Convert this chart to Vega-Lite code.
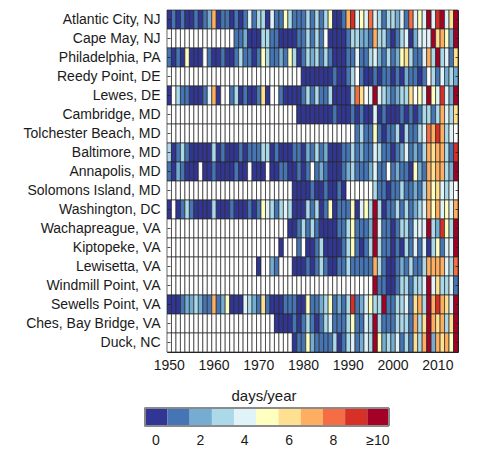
{
"$schema": "https://vega.github.io/schema/vega-lite/v6.json",
"padding": {"left": 22, "top": 9, "right": 0, "bottom": 0},
"spacing": 15,
"config": {
  "font": "Liberation Sans",
  "axis": {"labelFontSize": 14, "labelColor": "#1a1a1a", "grid": false},
  "view": {"stroke": "#222"}
},
"datasets": {
"stations": [{"k":0,"s":"Atlantic City, NJ"},{"k":1,"s":"Cape May, NJ"},{"k":2,"s":"Philadelphia, PA"},{"k":3,"s":"Reedy Point, DE"},{"k":4,"s":"Lewes, DE"},{"k":5,"s":"Cambridge, MD"},{"k":6,"s":"Tolchester Beach, MD"},{"k":7,"s":"Baltimore, MD"},{"k":8,"s":"Annapolis, MD"},{"k":9,"s":"Solomons Island, MD"},{"k":10,"s":"Washington, DC"},{"k":11,"s":"Wachapreague, VA"},{"k":12,"s":"Kiptopeke, VA"},{"k":13,"s":"Lewisetta, VA"},{"k":14,"s":"Windmill Point, VA"},{"k":15,"s":"Sewells Point, VA"},{"k":16,"s":"Ches, Bay Bridge, VA"},{"k":17,"s":"Duck, NC"}],
"cells": [
{"k":0,"yr":1950,"v":0},{"k":0,"yr":1951,"v":1},{"k":0,"yr":1952,"v":0},{"k":0,"yr":1953,"v":1},{"k":0,"yr":1954,"v":0},{"k":0,"yr":1955,"v":0},{"k":0,"yr":1956,"v":1},{"k":0,"yr":1957,"v":0},{"k":0,"yr":1958,"v":1},{"k":0,"yr":1959,"v":2},{"k":0,"yr":1960,"v":7},{"k":0,"yr":1961,"v":0},{"k":0,"yr":1962,"v":1},{"k":0,"yr":1963,"v":1},{"k":0,"yr":1964,"v":0},{"k":0,"yr":1965,"v":1},{"k":0,"yr":1966,"v":0},{"k":0,"yr":1967,"v":1},{"k":0,"yr":1968,"v":4},{"k":0,"yr":1969,"v":1},{"k":0,"yr":1970,"v":3},{"k":0,"yr":1971,"v":3},{"k":0,"yr":1972,"v":0},{"k":0,"yr":1973,"v":4},{"k":0,"yr":1974,"v":1},{"k":0,"yr":1975,"v":1},{"k":0,"yr":1976,"v":5},{"k":0,"yr":1977,"v":3},{"k":0,"yr":1978,"v":1},{"k":0,"yr":1979,"v":1},{"k":0,"yr":1980,"v":1},{"k":0,"yr":1981,"v":3},{"k":0,"yr":1982,"v":1},{"k":0,"yr":1983,"v":3},{"k":0,"yr":1984,"v":1},{"k":0,"yr":1985,"v":3},{"k":0,"yr":1986,"v":5},{"k":0,"yr":1987,"v":0},{"k":0,"yr":1988,"v":0},{"k":0,"yr":1989,"v":1},{"k":0,"yr":1990,"v":7},{"k":0,"yr":1991,"v":9},{"k":0,"yr":1992,"v":4},{"k":0,"yr":1993,"v":5},{"k":0,"yr":1994,"v":4},{"k":0,"yr":1995,"v":8},{"k":0,"yr":1996,"v":4},{"k":0,"yr":1997,"v":3},{"k":0,"yr":1998,"v":1},{"k":0,"yr":1999,"v":3},{"k":0,"yr":2000,"v":3},{"k":0,"yr":2001,"v":2},{"k":0,"yr":2002,"v":4},{"k":0,"yr":2003,"v":1},{"k":0,"yr":2004,"v":8},{"k":0,"yr":2005,"v":4},{"k":0,"yr":2006,"v":5},{"k":0,"yr":2007,"v":4},{"k":0,"yr":2008,"v":10},{"k":0,"yr":2009,"v":4},{"k":0,"yr":2010,"v":9},{"k":0,"yr":2011,"v":10},{"k":0,"yr":2012,"v":4},{"k":0,"yr":2013,"v":6},{"k":0,"yr":2014,"v":10},
{"k":1,"yr":1950,"v":null},{"k":1,"yr":1951,"v":null},{"k":1,"yr":1952,"v":null},{"k":1,"yr":1953,"v":null},{"k":1,"yr":1954,"v":null},{"k":1,"yr":1955,"v":null},{"k":1,"yr":1956,"v":null},{"k":1,"yr":1957,"v":null},{"k":1,"yr":1958,"v":null},{"k":1,"yr":1959,"v":null},{"k":1,"yr":1960,"v":null},{"k":1,"yr":1961,"v":null},{"k":1,"yr":1962,"v":null},{"k":1,"yr":1963,"v":null},{"k":1,"yr":1964,"v":null},{"k":1,"yr":1965,"v":1},{"k":1,"yr":1966,"v":1},{"k":1,"yr":1967,"v":2},{"k":1,"yr":1968,"v":0},{"k":1,"yr":1969,"v":0},{"k":1,"yr":1970,"v":0},{"k":1,"yr":1971,"v":3},{"k":1,"yr":1972,"v":3},{"k":1,"yr":1973,"v":1},{"k":1,"yr":1974,"v":1},{"k":1,"yr":1975,"v":0},{"k":1,"yr":1976,"v":0},{"k":1,"yr":1977,"v":0},{"k":1,"yr":1978,"v":0},{"k":1,"yr":1979,"v":1},{"k":1,"yr":1980,"v":1},{"k":1,"yr":1981,"v":3},{"k":1,"yr":1982,"v":1},{"k":1,"yr":1983,"v":3},{"k":1,"yr":1984,"v":1},{"k":1,"yr":1985,"v":null},{"k":1,"yr":1986,"v":0},{"k":1,"yr":1987,"v":0},{"k":1,"yr":1988,"v":0},{"k":1,"yr":1989,"v":0},{"k":1,"yr":1990,"v":1},{"k":1,"yr":1991,"v":3},{"k":1,"yr":1992,"v":3},{"k":1,"yr":1993,"v":2},{"k":1,"yr":1994,"v":2},{"k":1,"yr":1995,"v":1},{"k":1,"yr":1996,"v":7},{"k":1,"yr":1997,"v":3},{"k":1,"yr":1998,"v":3},{"k":1,"yr":1999,"v":1},{"k":1,"yr":2000,"v":0},{"k":1,"yr":2001,"v":1},{"k":1,"yr":2002,"v":3},{"k":1,"yr":2003,"v":4},{"k":1,"yr":2004,"v":0},{"k":1,"yr":2005,"v":2},{"k":1,"yr":2006,"v":4},{"k":1,"yr":2007,"v":4},{"k":1,"yr":2008,"v":4},{"k":1,"yr":2009,"v":10},{"k":1,"yr":2010,"v":6},{"k":1,"yr":2011,"v":7},{"k":1,"yr":2012,"v":5},{"k":1,"yr":2013,"v":2},{"k":1,"yr":2014,"v":10},
{"k":2,"yr":1950,"v":1},{"k":2,"yr":1951,"v":0},{"k":2,"yr":1952,"v":1},{"k":2,"yr":1953,"v":0},{"k":2,"yr":1954,"v":5},{"k":2,"yr":1955,"v":0},{"k":2,"yr":1956,"v":0},{"k":2,"yr":1957,"v":0},{"k":2,"yr":1958,"v":null},{"k":2,"yr":1959,"v":1},{"k":2,"yr":1960,"v":0},{"k":2,"yr":1961,"v":0},{"k":2,"yr":1962,"v":1},{"k":2,"yr":1963,"v":0},{"k":2,"yr":1964,"v":0},{"k":2,"yr":1965,"v":1},{"k":2,"yr":1966,"v":3},{"k":2,"yr":1967,"v":1},{"k":2,"yr":1968,"v":1},{"k":2,"yr":1969,"v":0},{"k":2,"yr":1970,"v":1},{"k":2,"yr":1971,"v":5},{"k":2,"yr":1972,"v":3},{"k":2,"yr":1973,"v":1},{"k":2,"yr":1974,"v":1},{"k":2,"yr":1975,"v":2},{"k":2,"yr":1976,"v":1},{"k":2,"yr":1977,"v":5},{"k":2,"yr":1978,"v":3},{"k":2,"yr":1979,"v":0},{"k":2,"yr":1980,"v":1},{"k":2,"yr":1981,"v":3},{"k":2,"yr":1982,"v":2},{"k":2,"yr":1983,"v":3},{"k":2,"yr":1984,"v":1},{"k":2,"yr":1985,"v":3},{"k":2,"yr":1986,"v":1},{"k":2,"yr":1987,"v":0},{"k":2,"yr":1988,"v":0},{"k":2,"yr":1989,"v":0},{"k":2,"yr":1990,"v":1},{"k":2,"yr":1991,"v":1},{"k":2,"yr":1992,"v":4},{"k":2,"yr":1993,"v":1},{"k":2,"yr":1994,"v":1},{"k":2,"yr":1995,"v":3},{"k":2,"yr":1996,"v":4},{"k":2,"yr":1997,"v":2},{"k":2,"yr":1998,"v":1},{"k":2,"yr":1999,"v":3},{"k":2,"yr":2000,"v":1},{"k":2,"yr":2001,"v":2},{"k":2,"yr":2002,"v":5},{"k":2,"yr":2003,"v":6},{"k":2,"yr":2004,"v":3},{"k":2,"yr":2005,"v":1},{"k":2,"yr":2006,"v":1},{"k":2,"yr":2007,"v":4},{"k":2,"yr":2008,"v":7},{"k":2,"yr":2009,"v":3},{"k":2,"yr":2010,"v":10},{"k":2,"yr":2011,"v":3},{"k":2,"yr":2012,"v":4},{"k":2,"yr":2013,"v":1},{"k":2,"yr":2014,"v":6},
{"k":3,"yr":1950,"v":null},{"k":3,"yr":1951,"v":null},{"k":3,"yr":1952,"v":null},{"k":3,"yr":1953,"v":null},{"k":3,"yr":1954,"v":null},{"k":3,"yr":1955,"v":null},{"k":3,"yr":1956,"v":null},{"k":3,"yr":1957,"v":null},{"k":3,"yr":1958,"v":null},{"k":3,"yr":1959,"v":null},{"k":3,"yr":1960,"v":null},{"k":3,"yr":1961,"v":null},{"k":3,"yr":1962,"v":null},{"k":3,"yr":1963,"v":null},{"k":3,"yr":1964,"v":null},{"k":3,"yr":1965,"v":null},{"k":3,"yr":1966,"v":null},{"k":3,"yr":1967,"v":null},{"k":3,"yr":1968,"v":null},{"k":3,"yr":1969,"v":null},{"k":3,"yr":1970,"v":null},{"k":3,"yr":1971,"v":null},{"k":3,"yr":1972,"v":null},{"k":3,"yr":1973,"v":null},{"k":3,"yr":1974,"v":null},{"k":3,"yr":1975,"v":null},{"k":3,"yr":1976,"v":null},{"k":3,"yr":1977,"v":null},{"k":3,"yr":1978,"v":null},{"k":3,"yr":1979,"v":null},{"k":3,"yr":1980,"v":0},{"k":3,"yr":1981,"v":0},{"k":3,"yr":1982,"v":0},{"k":3,"yr":1983,"v":0},{"k":3,"yr":1984,"v":0},{"k":3,"yr":1985,"v":0},{"k":3,"yr":1986,"v":0},{"k":3,"yr":1987,"v":1},{"k":3,"yr":1988,"v":0},{"k":3,"yr":1989,"v":0},{"k":3,"yr":1990,"v":1},{"k":3,"yr":1991,"v":3},{"k":3,"yr":1992,"v":null},{"k":3,"yr":1993,"v":1},{"k":3,"yr":1994,"v":0},{"k":3,"yr":1995,"v":0},{"k":3,"yr":1996,"v":1},{"k":3,"yr":1997,"v":0},{"k":3,"yr":1998,"v":1},{"k":3,"yr":1999,"v":1},{"k":3,"yr":2000,"v":0},{"k":3,"yr":2001,"v":1},{"k":3,"yr":2002,"v":0},{"k":3,"yr":2003,"v":2},{"k":3,"yr":2004,"v":1},{"k":3,"yr":2005,"v":1},{"k":3,"yr":2006,"v":0},{"k":3,"yr":2007,"v":1},{"k":3,"yr":2008,"v":null},{"k":3,"yr":2009,"v":3},{"k":3,"yr":2010,"v":1},{"k":3,"yr":2011,"v":4},{"k":3,"yr":2012,"v":2},{"k":3,"yr":2013,"v":3},{"k":3,"yr":2014,"v":2},
{"k":4,"yr":1950,"v":0},{"k":4,"yr":1951,"v":null},{"k":4,"yr":1952,"v":3},{"k":4,"yr":1953,"v":1},{"k":4,"yr":1954,"v":1},{"k":4,"yr":1955,"v":0},{"k":4,"yr":1956,"v":0},{"k":4,"yr":1957,"v":0},{"k":4,"yr":1958,"v":1},{"k":4,"yr":1959,"v":4},{"k":4,"yr":1960,"v":7},{"k":4,"yr":1961,"v":0},{"k":4,"yr":1962,"v":null},{"k":4,"yr":1963,"v":null},{"k":4,"yr":1964,"v":1},{"k":4,"yr":1965,"v":3},{"k":4,"yr":1966,"v":0},{"k":4,"yr":1967,"v":1},{"k":4,"yr":1968,"v":0},{"k":4,"yr":1969,"v":0},{"k":4,"yr":1970,"v":1},{"k":4,"yr":1971,"v":6},{"k":4,"yr":1972,"v":0},{"k":4,"yr":1973,"v":null},{"k":4,"yr":1974,"v":null},{"k":4,"yr":1975,"v":1},{"k":4,"yr":1976,"v":0},{"k":4,"yr":1977,"v":0},{"k":4,"yr":1978,"v":0},{"k":4,"yr":1979,"v":0},{"k":4,"yr":1980,"v":1},{"k":4,"yr":1981,"v":3},{"k":4,"yr":1982,"v":1},{"k":4,"yr":1983,"v":3},{"k":4,"yr":1984,"v":1},{"k":4,"yr":1985,"v":1},{"k":4,"yr":1986,"v":3},{"k":4,"yr":1987,"v":0},{"k":4,"yr":1988,"v":0},{"k":4,"yr":1989,"v":0},{"k":4,"yr":1990,"v":0},{"k":4,"yr":1991,"v":3},{"k":4,"yr":1992,"v":8},{"k":4,"yr":1993,"v":6},{"k":4,"yr":1994,"v":null},{"k":4,"yr":1995,"v":4},{"k":4,"yr":1996,"v":10},{"k":4,"yr":1997,"v":4},{"k":4,"yr":1998,"v":3},{"k":4,"yr":1999,"v":2},{"k":4,"yr":2000,"v":1},{"k":4,"yr":2001,"v":2},{"k":4,"yr":2002,"v":3},{"k":4,"yr":2003,"v":3},{"k":4,"yr":2004,"v":6},{"k":4,"yr":2005,"v":null},{"k":4,"yr":2006,"v":5},{"k":4,"yr":2007,"v":4},{"k":4,"yr":2008,"v":10},{"k":4,"yr":2009,"v":5},{"k":4,"yr":2010,"v":4},{"k":4,"yr":2011,"v":9},{"k":4,"yr":2012,"v":4},{"k":4,"yr":2013,"v":2},{"k":4,"yr":2014,"v":10},
{"k":5,"yr":1950,"v":null},{"k":5,"yr":1951,"v":null},{"k":5,"yr":1952,"v":null},{"k":5,"yr":1953,"v":null},{"k":5,"yr":1954,"v":null},{"k":5,"yr":1955,"v":null},{"k":5,"yr":1956,"v":null},{"k":5,"yr":1957,"v":null},{"k":5,"yr":1958,"v":null},{"k":5,"yr":1959,"v":null},{"k":5,"yr":1960,"v":null},{"k":5,"yr":1961,"v":null},{"k":5,"yr":1962,"v":null},{"k":5,"yr":1963,"v":null},{"k":5,"yr":1964,"v":null},{"k":5,"yr":1965,"v":null},{"k":5,"yr":1966,"v":null},{"k":5,"yr":1967,"v":null},{"k":5,"yr":1968,"v":null},{"k":5,"yr":1969,"v":null},{"k":5,"yr":1970,"v":null},{"k":5,"yr":1971,"v":null},{"k":5,"yr":1972,"v":null},{"k":5,"yr":1973,"v":null},{"k":5,"yr":1974,"v":null},{"k":5,"yr":1975,"v":null},{"k":5,"yr":1976,"v":null},{"k":5,"yr":1977,"v":null},{"k":5,"yr":1978,"v":null},{"k":5,"yr":1979,"v":0},{"k":5,"yr":1980,"v":0},{"k":5,"yr":1981,"v":0},{"k":5,"yr":1982,"v":0},{"k":5,"yr":1983,"v":0},{"k":5,"yr":1984,"v":0},{"k":5,"yr":1985,"v":0},{"k":5,"yr":1986,"v":0},{"k":5,"yr":1987,"v":1},{"k":5,"yr":1988,"v":0},{"k":5,"yr":1989,"v":0},{"k":5,"yr":1990,"v":0},{"k":5,"yr":1991,"v":1},{"k":5,"yr":1992,"v":0},{"k":5,"yr":1993,"v":1},{"k":5,"yr":1994,"v":0},{"k":5,"yr":1995,"v":0},{"k":5,"yr":1996,"v":4},{"k":5,"yr":1997,"v":0},{"k":5,"yr":1998,"v":1},{"k":5,"yr":1999,"v":0},{"k":5,"yr":2000,"v":0},{"k":5,"yr":2001,"v":0},{"k":5,"yr":2002,"v":1},{"k":5,"yr":2003,"v":0},{"k":5,"yr":2004,"v":1},{"k":5,"yr":2005,"v":0},{"k":5,"yr":2006,"v":1},{"k":5,"yr":2007,"v":3},{"k":5,"yr":2008,"v":3},{"k":5,"yr":2009,"v":1},{"k":5,"yr":2010,"v":3},{"k":5,"yr":2011,"v":7},{"k":5,"yr":2012,"v":4},{"k":5,"yr":2013,"v":3},{"k":5,"yr":2014,"v":6},
{"k":6,"yr":1950,"v":null},{"k":6,"yr":1951,"v":null},{"k":6,"yr":1952,"v":null},{"k":6,"yr":1953,"v":null},{"k":6,"yr":1954,"v":null},{"k":6,"yr":1955,"v":null},{"k":6,"yr":1956,"v":null},{"k":6,"yr":1957,"v":null},{"k":6,"yr":1958,"v":null},{"k":6,"yr":1959,"v":null},{"k":6,"yr":1960,"v":null},{"k":6,"yr":1961,"v":null},{"k":6,"yr":1962,"v":null},{"k":6,"yr":1963,"v":null},{"k":6,"yr":1964,"v":null},{"k":6,"yr":1965,"v":null},{"k":6,"yr":1966,"v":null},{"k":6,"yr":1967,"v":null},{"k":6,"yr":1968,"v":null},{"k":6,"yr":1969,"v":null},{"k":6,"yr":1970,"v":null},{"k":6,"yr":1971,"v":null},{"k":6,"yr":1972,"v":null},{"k":6,"yr":1973,"v":null},{"k":6,"yr":1974,"v":null},{"k":6,"yr":1975,"v":null},{"k":6,"yr":1976,"v":null},{"k":6,"yr":1977,"v":null},{"k":6,"yr":1978,"v":null},{"k":6,"yr":1979,"v":null},{"k":6,"yr":1980,"v":null},{"k":6,"yr":1981,"v":null},{"k":6,"yr":1982,"v":null},{"k":6,"yr":1983,"v":null},{"k":6,"yr":1984,"v":null},{"k":6,"yr":1985,"v":null},{"k":6,"yr":1986,"v":null},{"k":6,"yr":1987,"v":null},{"k":6,"yr":1988,"v":null},{"k":6,"yr":1989,"v":null},{"k":6,"yr":1990,"v":null},{"k":6,"yr":1991,"v":null},{"k":6,"yr":1992,"v":1},{"k":6,"yr":1993,"v":3},{"k":6,"yr":1994,"v":1},{"k":6,"yr":1995,"v":1},{"k":6,"yr":1996,"v":5},{"k":6,"yr":1997,"v":1},{"k":6,"yr":1998,"v":0},{"k":6,"yr":1999,"v":1},{"k":6,"yr":2000,"v":1},{"k":6,"yr":2001,"v":3},{"k":6,"yr":2002,"v":0},{"k":6,"yr":2003,"v":3},{"k":6,"yr":2004,"v":1},{"k":6,"yr":2005,"v":1},{"k":6,"yr":2006,"v":3},{"k":6,"yr":2007,"v":4},{"k":6,"yr":2008,"v":8},{"k":6,"yr":2009,"v":7},{"k":6,"yr":2010,"v":9},{"k":6,"yr":2011,"v":7},{"k":6,"yr":2012,"v":3},{"k":6,"yr":2013,"v":4},{"k":6,"yr":2014,"v":null},
{"k":7,"yr":1950,"v":3},{"k":7,"yr":1951,"v":0},{"k":7,"yr":1952,"v":1},{"k":7,"yr":1953,"v":3},{"k":7,"yr":1954,"v":1},{"k":7,"yr":1955,"v":0},{"k":7,"yr":1956,"v":0},{"k":7,"yr":1957,"v":0},{"k":7,"yr":1958,"v":0},{"k":7,"yr":1959,"v":0},{"k":7,"yr":1960,"v":3},{"k":7,"yr":1961,"v":0},{"k":7,"yr":1962,"v":1},{"k":7,"yr":1963,"v":0},{"k":7,"yr":1964,"v":0},{"k":7,"yr":1965,"v":0},{"k":7,"yr":1966,"v":1},{"k":7,"yr":1967,"v":0},{"k":7,"yr":1968,"v":1},{"k":7,"yr":1969,"v":1},{"k":7,"yr":1970,"v":1},{"k":7,"yr":1971,"v":3},{"k":7,"yr":1972,"v":3},{"k":7,"yr":1973,"v":0},{"k":7,"yr":1974,"v":1},{"k":7,"yr":1975,"v":0},{"k":7,"yr":1976,"v":0},{"k":7,"yr":1977,"v":0},{"k":7,"yr":1978,"v":1},{"k":7,"yr":1979,"v":1},{"k":7,"yr":1980,"v":0},{"k":7,"yr":1981,"v":2},{"k":7,"yr":1982,"v":1},{"k":7,"yr":1983,"v":3},{"k":7,"yr":1984,"v":1},{"k":7,"yr":1985,"v":2},{"k":7,"yr":1986,"v":0},{"k":7,"yr":1987,"v":0},{"k":7,"yr":1988,"v":0},{"k":7,"yr":1989,"v":1},{"k":7,"yr":1990,"v":1},{"k":7,"yr":1991,"v":3},{"k":7,"yr":1992,"v":1},{"k":7,"yr":1993,"v":2},{"k":7,"yr":1994,"v":1},{"k":7,"yr":1995,"v":1},{"k":7,"yr":1996,"v":4},{"k":7,"yr":1997,"v":3},{"k":7,"yr":1998,"v":1},{"k":7,"yr":1999,"v":1},{"k":7,"yr":2000,"v":0},{"k":7,"yr":2001,"v":1},{"k":7,"yr":2002,"v":2},{"k":7,"yr":2003,"v":4},{"k":7,"yr":2004,"v":1},{"k":7,"yr":2005,"v":2},{"k":7,"yr":2006,"v":1},{"k":7,"yr":2007,"v":3},{"k":7,"yr":2008,"v":7},{"k":7,"yr":2009,"v":6},{"k":7,"yr":2010,"v":7},{"k":7,"yr":2011,"v":7},{"k":7,"yr":2012,"v":3},{"k":7,"yr":2013,"v":1},{"k":7,"yr":2014,"v":9},
{"k":8,"yr":1950,"v":1},{"k":8,"yr":1951,"v":0},{"k":8,"yr":1952,"v":2},{"k":8,"yr":1953,"v":1},{"k":8,"yr":1954,"v":0},{"k":8,"yr":1955,"v":0},{"k":8,"yr":1956,"v":0},{"k":8,"yr":1957,"v":null},{"k":8,"yr":1958,"v":0},{"k":8,"yr":1959,"v":0},{"k":8,"yr":1960,"v":1},{"k":8,"yr":1961,"v":0},{"k":8,"yr":1962,"v":0},{"k":8,"yr":1963,"v":0},{"k":8,"yr":1964,"v":0},{"k":8,"yr":1965,"v":1},{"k":8,"yr":1966,"v":0},{"k":8,"yr":1967,"v":0},{"k":8,"yr":1968,"v":null},{"k":8,"yr":1969,"v":0},{"k":8,"yr":1970,"v":0},{"k":8,"yr":1971,"v":0},{"k":8,"yr":1972,"v":null},{"k":8,"yr":1973,"v":0},{"k":8,"yr":1974,"v":0},{"k":8,"yr":1975,"v":1},{"k":8,"yr":1976,"v":1},{"k":8,"yr":1977,"v":0},{"k":8,"yr":1978,"v":0},{"k":8,"yr":1979,"v":1},{"k":8,"yr":1980,"v":0},{"k":8,"yr":1981,"v":1},{"k":8,"yr":1982,"v":null},{"k":8,"yr":1983,"v":1},{"k":8,"yr":1984,"v":2},{"k":8,"yr":1985,"v":1},{"k":8,"yr":1986,"v":0},{"k":8,"yr":1987,"v":0},{"k":8,"yr":1988,"v":0},{"k":8,"yr":1989,"v":1},{"k":8,"yr":1990,"v":2},{"k":8,"yr":1991,"v":3},{"k":8,"yr":1992,"v":1},{"k":8,"yr":1993,"v":1},{"k":8,"yr":1994,"v":1},{"k":8,"yr":1995,"v":2},{"k":8,"yr":1996,"v":4},{"k":8,"yr":1997,"v":1},{"k":8,"yr":1998,"v":1},{"k":8,"yr":1999,"v":null},{"k":8,"yr":2000,"v":1},{"k":8,"yr":2001,"v":2},{"k":8,"yr":2002,"v":1},{"k":8,"yr":2003,"v":1},{"k":8,"yr":2004,"v":0},{"k":8,"yr":2005,"v":5},{"k":8,"yr":2006,"v":2},{"k":8,"yr":2007,"v":1},{"k":8,"yr":2008,"v":7},{"k":8,"yr":2009,"v":6},{"k":8,"yr":2010,"v":7},{"k":8,"yr":2011,"v":7},{"k":8,"yr":2012,"v":3},{"k":8,"yr":2013,"v":2},{"k":8,"yr":2014,"v":10},
{"k":9,"yr":1950,"v":null},{"k":9,"yr":1951,"v":null},{"k":9,"yr":1952,"v":null},{"k":9,"yr":1953,"v":null},{"k":9,"yr":1954,"v":null},{"k":9,"yr":1955,"v":null},{"k":9,"yr":1956,"v":null},{"k":9,"yr":1957,"v":null},{"k":9,"yr":1958,"v":null},{"k":9,"yr":1959,"v":null},{"k":9,"yr":1960,"v":null},{"k":9,"yr":1961,"v":null},{"k":9,"yr":1962,"v":null},{"k":9,"yr":1963,"v":null},{"k":9,"yr":1964,"v":null},{"k":9,"yr":1965,"v":null},{"k":9,"yr":1966,"v":null},{"k":9,"yr":1967,"v":null},{"k":9,"yr":1968,"v":null},{"k":9,"yr":1969,"v":null},{"k":9,"yr":1970,"v":null},{"k":9,"yr":1971,"v":null},{"k":9,"yr":1972,"v":null},{"k":9,"yr":1973,"v":null},{"k":9,"yr":1974,"v":null},{"k":9,"yr":1975,"v":null},{"k":9,"yr":1976,"v":null},{"k":9,"yr":1977,"v":null},{"k":9,"yr":1978,"v":0},{"k":9,"yr":1979,"v":0},{"k":9,"yr":1980,"v":0},{"k":9,"yr":1981,"v":0},{"k":9,"yr":1982,"v":1},{"k":9,"yr":1983,"v":0},{"k":9,"yr":1984,"v":0},{"k":9,"yr":1985,"v":1},{"k":9,"yr":1986,"v":0},{"k":9,"yr":1987,"v":0},{"k":9,"yr":1988,"v":1},{"k":9,"yr":1989,"v":0},{"k":9,"yr":1990,"v":null},{"k":9,"yr":1991,"v":null},{"k":9,"yr":1992,"v":null},{"k":9,"yr":1993,"v":null},{"k":9,"yr":1994,"v":null},{"k":9,"yr":1995,"v":null},{"k":9,"yr":1996,"v":3},{"k":9,"yr":1997,"v":1},{"k":9,"yr":1998,"v":1},{"k":9,"yr":1999,"v":0},{"k":9,"yr":2000,"v":1},{"k":9,"yr":2001,"v":1},{"k":9,"yr":2002,"v":3},{"k":9,"yr":2003,"v":1},{"k":9,"yr":2004,"v":1},{"k":9,"yr":2005,"v":2},{"k":9,"yr":2006,"v":1},{"k":9,"yr":2007,"v":3},{"k":9,"yr":2008,"v":7},{"k":9,"yr":2009,"v":5},{"k":9,"yr":2010,"v":6},{"k":9,"yr":2011,"v":4},{"k":9,"yr":2012,"v":3},{"k":9,"yr":2013,"v":4},{"k":9,"yr":2014,"v":null},
{"k":10,"yr":1950,"v":0},{"k":10,"yr":1951,"v":null},{"k":10,"yr":1952,"v":0},{"k":10,"yr":1953,"v":1},{"k":10,"yr":1954,"v":3},{"k":10,"yr":1955,"v":1},{"k":10,"yr":1956,"v":0},{"k":10,"yr":1957,"v":0},{"k":10,"yr":1958,"v":0},{"k":10,"yr":1959,"v":0},{"k":10,"yr":1960,"v":3},{"k":10,"yr":1961,"v":0},{"k":10,"yr":1962,"v":0},{"k":10,"yr":1963,"v":0},{"k":10,"yr":1964,"v":1},{"k":10,"yr":1965,"v":0},{"k":10,"yr":1966,"v":0},{"k":10,"yr":1967,"v":0},{"k":10,"yr":1968,"v":1},{"k":10,"yr":1969,"v":0},{"k":10,"yr":1970,"v":1},{"k":10,"yr":1971,"v":5},{"k":10,"yr":1972,"v":4},{"k":10,"yr":1973,"v":3},{"k":10,"yr":1974,"v":1},{"k":10,"yr":1975,"v":3},{"k":10,"yr":1976,"v":4},{"k":10,"yr":1977,"v":3},{"k":10,"yr":1978,"v":0},{"k":10,"yr":1979,"v":0},{"k":10,"yr":1980,"v":0},{"k":10,"yr":1981,"v":3},{"k":10,"yr":1982,"v":1},{"k":10,"yr":1983,"v":3},{"k":10,"yr":1984,"v":0},{"k":10,"yr":1985,"v":1},{"k":10,"yr":1986,"v":5},{"k":10,"yr":1987,"v":0},{"k":10,"yr":1988,"v":1},{"k":10,"yr":1989,"v":1},{"k":10,"yr":1990,"v":1},{"k":10,"yr":1991,"v":5},{"k":10,"yr":1992,"v":0},{"k":10,"yr":1993,"v":4},{"k":10,"yr":1994,"v":5},{"k":10,"yr":1995,"v":3},{"k":10,"yr":1996,"v":10},{"k":10,"yr":1997,"v":3},{"k":10,"yr":1998,"v":0},{"k":10,"yr":1999,"v":1},{"k":10,"yr":2000,"v":1},{"k":10,"yr":2001,"v":3},{"k":10,"yr":2002,"v":1},{"k":10,"yr":2003,"v":3},{"k":10,"yr":2004,"v":1},{"k":10,"yr":2005,"v":2},{"k":10,"yr":2006,"v":3},{"k":10,"yr":2007,"v":4},{"k":10,"yr":2008,"v":7},{"k":10,"yr":2009,"v":5},{"k":10,"yr":2010,"v":7},{"k":10,"yr":2011,"v":4},{"k":10,"yr":2012,"v":5},{"k":10,"yr":2013,"v":4},{"k":10,"yr":2014,"v":7},
{"k":11,"yr":1950,"v":null},{"k":11,"yr":1951,"v":null},{"k":11,"yr":1952,"v":null},{"k":11,"yr":1953,"v":null},{"k":11,"yr":1954,"v":null},{"k":11,"yr":1955,"v":null},{"k":11,"yr":1956,"v":null},{"k":11,"yr":1957,"v":null},{"k":11,"yr":1958,"v":null},{"k":11,"yr":1959,"v":null},{"k":11,"yr":1960,"v":null},{"k":11,"yr":1961,"v":null},{"k":11,"yr":1962,"v":null},{"k":11,"yr":1963,"v":null},{"k":11,"yr":1964,"v":null},{"k":11,"yr":1965,"v":null},{"k":11,"yr":1966,"v":null},{"k":11,"yr":1967,"v":null},{"k":11,"yr":1968,"v":null},{"k":11,"yr":1969,"v":null},{"k":11,"yr":1970,"v":null},{"k":11,"yr":1971,"v":null},{"k":11,"yr":1972,"v":null},{"k":11,"yr":1973,"v":null},{"k":11,"yr":1974,"v":null},{"k":11,"yr":1975,"v":null},{"k":11,"yr":1976,"v":null},{"k":11,"yr":1977,"v":0},{"k":11,"yr":1978,"v":0},{"k":11,"yr":1979,"v":1},{"k":11,"yr":1980,"v":3},{"k":11,"yr":1981,"v":1},{"k":11,"yr":1982,"v":3},{"k":11,"yr":1983,"v":1},{"k":11,"yr":1984,"v":0},{"k":11,"yr":1985,"v":0},{"k":11,"yr":1986,"v":0},{"k":11,"yr":1987,"v":0},{"k":11,"yr":1988,"v":1},{"k":11,"yr":1989,"v":1},{"k":11,"yr":1990,"v":3},{"k":11,"yr":1991,"v":5},{"k":11,"yr":1992,"v":1},{"k":11,"yr":1993,"v":1},{"k":11,"yr":1994,"v":1},{"k":11,"yr":1995,"v":2},{"k":11,"yr":1996,"v":10},{"k":11,"yr":1997,"v":4},{"k":11,"yr":1998,"v":1},{"k":11,"yr":1999,"v":1},{"k":11,"yr":2000,"v":0},{"k":11,"yr":2001,"v":1},{"k":11,"yr":2002,"v":3},{"k":11,"yr":2003,"v":3},{"k":11,"yr":2004,"v":1},{"k":11,"yr":2005,"v":4},{"k":11,"yr":2006,"v":4},{"k":11,"yr":2007,"v":4},{"k":11,"yr":2008,"v":10},{"k":11,"yr":2009,"v":3},{"k":11,"yr":2010,"v":2},{"k":11,"yr":2011,"v":9},{"k":11,"yr":2012,"v":5},{"k":11,"yr":2013,"v":3},{"k":11,"yr":2014,"v":10},
{"k":12,"yr":1950,"v":null},{"k":12,"yr":1951,"v":null},{"k":12,"yr":1952,"v":null},{"k":12,"yr":1953,"v":null},{"k":12,"yr":1954,"v":null},{"k":12,"yr":1955,"v":null},{"k":12,"yr":1956,"v":null},{"k":12,"yr":1957,"v":null},{"k":12,"yr":1958,"v":null},{"k":12,"yr":1959,"v":null},{"k":12,"yr":1960,"v":null},{"k":12,"yr":1961,"v":null},{"k":12,"yr":1962,"v":null},{"k":12,"yr":1963,"v":null},{"k":12,"yr":1964,"v":null},{"k":12,"yr":1965,"v":null},{"k":12,"yr":1966,"v":null},{"k":12,"yr":1967,"v":null},{"k":12,"yr":1968,"v":null},{"k":12,"yr":1969,"v":null},{"k":12,"yr":1970,"v":null},{"k":12,"yr":1971,"v":null},{"k":12,"yr":1972,"v":null},{"k":12,"yr":1973,"v":null},{"k":12,"yr":1974,"v":null},{"k":12,"yr":1975,"v":0},{"k":12,"yr":1976,"v":null},{"k":12,"yr":1977,"v":null},{"k":12,"yr":1978,"v":null},{"k":12,"yr":1979,"v":1},{"k":12,"yr":1980,"v":null},{"k":12,"yr":1981,"v":0},{"k":12,"yr":1982,"v":0},{"k":12,"yr":1983,"v":1},{"k":12,"yr":1984,"v":3},{"k":12,"yr":1985,"v":0},{"k":12,"yr":1986,"v":0},{"k":12,"yr":1987,"v":0},{"k":12,"yr":1988,"v":0},{"k":12,"yr":1989,"v":1},{"k":12,"yr":1990,"v":3},{"k":12,"yr":1991,"v":5},{"k":12,"yr":1992,"v":1},{"k":12,"yr":1993,"v":0},{"k":12,"yr":1994,"v":1},{"k":12,"yr":1995,"v":3},{"k":12,"yr":1996,"v":10},{"k":12,"yr":1997,"v":3},{"k":12,"yr":1998,"v":1},{"k":12,"yr":1999,"v":1},{"k":12,"yr":2000,"v":0},{"k":12,"yr":2001,"v":1},{"k":12,"yr":2002,"v":0},{"k":12,"yr":2003,"v":3},{"k":12,"yr":2004,"v":1},{"k":12,"yr":2005,"v":4},{"k":12,"yr":2006,"v":1},{"k":12,"yr":2007,"v":4},{"k":12,"yr":2008,"v":0},{"k":12,"yr":2009,"v":3},{"k":12,"yr":2010,"v":5},{"k":12,"yr":2011,"v":1},{"k":12,"yr":2012,"v":4},{"k":12,"yr":2013,"v":4},{"k":12,"yr":2014,"v":10},
{"k":13,"yr":1950,"v":null},{"k":13,"yr":1951,"v":null},{"k":13,"yr":1952,"v":null},{"k":13,"yr":1953,"v":null},{"k":13,"yr":1954,"v":null},{"k":13,"yr":1955,"v":null},{"k":13,"yr":1956,"v":null},{"k":13,"yr":1957,"v":null},{"k":13,"yr":1958,"v":null},{"k":13,"yr":1959,"v":null},{"k":13,"yr":1960,"v":null},{"k":13,"yr":1961,"v":null},{"k":13,"yr":1962,"v":null},{"k":13,"yr":1963,"v":null},{"k":13,"yr":1964,"v":null},{"k":13,"yr":1965,"v":null},{"k":13,"yr":1966,"v":null},{"k":13,"yr":1967,"v":null},{"k":13,"yr":1968,"v":null},{"k":13,"yr":1969,"v":null},{"k":13,"yr":1970,"v":0},{"k":13,"yr":1971,"v":null},{"k":13,"yr":1972,"v":null},{"k":13,"yr":1973,"v":2},{"k":13,"yr":1974,"v":1},{"k":13,"yr":1975,"v":null},{"k":13,"yr":1976,"v":null},{"k":13,"yr":1977,"v":null},{"k":13,"yr":1978,"v":0},{"k":13,"yr":1979,"v":0},{"k":13,"yr":1980,"v":0},{"k":13,"yr":1981,"v":1},{"k":13,"yr":1982,"v":0},{"k":13,"yr":1983,"v":1},{"k":13,"yr":1984,"v":3},{"k":13,"yr":1985,"v":1},{"k":13,"yr":1986,"v":0},{"k":13,"yr":1987,"v":0},{"k":13,"yr":1988,"v":1},{"k":13,"yr":1989,"v":1},{"k":13,"yr":1990,"v":3},{"k":13,"yr":1991,"v":1},{"k":13,"yr":1992,"v":1},{"k":13,"yr":1993,"v":1},{"k":13,"yr":1994,"v":1},{"k":13,"yr":1995,"v":1},{"k":13,"yr":1996,"v":7},{"k":13,"yr":1997,"v":3},{"k":13,"yr":1998,"v":1},{"k":13,"yr":1999,"v":0},{"k":13,"yr":2000,"v":0},{"k":13,"yr":2001,"v":1},{"k":13,"yr":2002,"v":2},{"k":13,"yr":2003,"v":1},{"k":13,"yr":2004,"v":3},{"k":13,"yr":2005,"v":1},{"k":13,"yr":2006,"v":1},{"k":13,"yr":2007,"v":3},{"k":13,"yr":2008,"v":7},{"k":13,"yr":2009,"v":7},{"k":13,"yr":2010,"v":7},{"k":13,"yr":2011,"v":7},{"k":13,"yr":2012,"v":4},{"k":13,"yr":2013,"v":3},{"k":13,"yr":2014,"v":8},
{"k":14,"yr":1950,"v":null},{"k":14,"yr":1951,"v":null},{"k":14,"yr":1952,"v":null},{"k":14,"yr":1953,"v":null},{"k":14,"yr":1954,"v":null},{"k":14,"yr":1955,"v":null},{"k":14,"yr":1956,"v":null},{"k":14,"yr":1957,"v":null},{"k":14,"yr":1958,"v":null},{"k":14,"yr":1959,"v":null},{"k":14,"yr":1960,"v":null},{"k":14,"yr":1961,"v":null},{"k":14,"yr":1962,"v":null},{"k":14,"yr":1963,"v":null},{"k":14,"yr":1964,"v":null},{"k":14,"yr":1965,"v":null},{"k":14,"yr":1966,"v":null},{"k":14,"yr":1967,"v":null},{"k":14,"yr":1968,"v":null},{"k":14,"yr":1969,"v":null},{"k":14,"yr":1970,"v":null},{"k":14,"yr":1971,"v":null},{"k":14,"yr":1972,"v":null},{"k":14,"yr":1973,"v":null},{"k":14,"yr":1974,"v":null},{"k":14,"yr":1975,"v":null},{"k":14,"yr":1976,"v":null},{"k":14,"yr":1977,"v":null},{"k":14,"yr":1978,"v":null},{"k":14,"yr":1979,"v":null},{"k":14,"yr":1980,"v":null},{"k":14,"yr":1981,"v":null},{"k":14,"yr":1982,"v":null},{"k":14,"yr":1983,"v":null},{"k":14,"yr":1984,"v":null},{"k":14,"yr":1985,"v":null},{"k":14,"yr":1986,"v":null},{"k":14,"yr":1987,"v":null},{"k":14,"yr":1988,"v":null},{"k":14,"yr":1989,"v":null},{"k":14,"yr":1990,"v":null},{"k":14,"yr":1991,"v":null},{"k":14,"yr":1992,"v":null},{"k":14,"yr":1993,"v":null},{"k":14,"yr":1994,"v":null},{"k":14,"yr":1995,"v":null},{"k":14,"yr":1996,"v":10},{"k":14,"yr":1997,"v":1},{"k":14,"yr":1998,"v":1},{"k":14,"yr":1999,"v":0},{"k":14,"yr":2000,"v":0},{"k":14,"yr":2001,"v":1},{"k":14,"yr":2002,"v":3},{"k":14,"yr":2003,"v":3},{"k":14,"yr":2004,"v":1},{"k":14,"yr":2005,"v":3},{"k":14,"yr":2006,"v":3},{"k":14,"yr":2007,"v":4},{"k":14,"yr":2008,"v":10},{"k":14,"yr":2009,"v":4},{"k":14,"yr":2010,"v":6},{"k":14,"yr":2011,"v":3},{"k":14,"yr":2012,"v":3},{"k":14,"yr":2013,"v":4},{"k":14,"yr":2014,"v":1},
{"k":15,"yr":1950,"v":0},{"k":15,"yr":1951,"v":0},{"k":15,"yr":1952,"v":0},{"k":15,"yr":1953,"v":1},{"k":15,"yr":1954,"v":2},{"k":15,"yr":1955,"v":2},{"k":15,"yr":1956,"v":3},{"k":15,"yr":1957,"v":2},{"k":15,"yr":1958,"v":1},{"k":15,"yr":1959,"v":1},{"k":15,"yr":1960,"v":7},{"k":15,"yr":1961,"v":1},{"k":15,"yr":1962,"v":2},{"k":15,"yr":1963,"v":5},{"k":15,"yr":1964,"v":0},{"k":15,"yr":1965,"v":0},{"k":15,"yr":1966,"v":0},{"k":15,"yr":1967,"v":4},{"k":15,"yr":1968,"v":3},{"k":15,"yr":1969,"v":2},{"k":15,"yr":1970,"v":1},{"k":15,"yr":1971,"v":6},{"k":15,"yr":1972,"v":1},{"k":15,"yr":1973,"v":0},{"k":15,"yr":1974,"v":0},{"k":15,"yr":1975,"v":0},{"k":15,"yr":1976,"v":1},{"k":15,"yr":1977,"v":1},{"k":15,"yr":1978,"v":1},{"k":15,"yr":1979,"v":0},{"k":15,"yr":1980,"v":0},{"k":15,"yr":1981,"v":5},{"k":15,"yr":1982,"v":1},{"k":15,"yr":1983,"v":1},{"k":15,"yr":1984,"v":2},{"k":15,"yr":1985,"v":3},{"k":15,"yr":1986,"v":5},{"k":15,"yr":1987,"v":1},{"k":15,"yr":1988,"v":2},{"k":15,"yr":1989,"v":1},{"k":15,"yr":1990,"v":3},{"k":15,"yr":1991,"v":9},{"k":15,"yr":1992,"v":1},{"k":15,"yr":1993,"v":2},{"k":15,"yr":1994,"v":4},{"k":15,"yr":1995,"v":5},{"k":15,"yr":1996,"v":3},{"k":15,"yr":1997,"v":3},{"k":15,"yr":1998,"v":10},{"k":15,"yr":1999,"v":1},{"k":15,"yr":2000,"v":1},{"k":15,"yr":2001,"v":3},{"k":15,"yr":2002,"v":3},{"k":15,"yr":2003,"v":4},{"k":15,"yr":2004,"v":1},{"k":15,"yr":2005,"v":6},{"k":15,"yr":2006,"v":7},{"k":15,"yr":2007,"v":3},{"k":15,"yr":2008,"v":10},{"k":15,"yr":2009,"v":7},{"k":15,"yr":2010,"v":9},{"k":15,"yr":2011,"v":7},{"k":15,"yr":2012,"v":6},{"k":15,"yr":2013,"v":4},{"k":15,"yr":2014,"v":10},
{"k":16,"yr":1950,"v":null},{"k":16,"yr":1951,"v":null},{"k":16,"yr":1952,"v":null},{"k":16,"yr":1953,"v":null},{"k":16,"yr":1954,"v":null},{"k":16,"yr":1955,"v":null},{"k":16,"yr":1956,"v":null},{"k":16,"yr":1957,"v":null},{"k":16,"yr":1958,"v":null},{"k":16,"yr":1959,"v":null},{"k":16,"yr":1960,"v":null},{"k":16,"yr":1961,"v":null},{"k":16,"yr":1962,"v":null},{"k":16,"yr":1963,"v":null},{"k":16,"yr":1964,"v":null},{"k":16,"yr":1965,"v":null},{"k":16,"yr":1966,"v":null},{"k":16,"yr":1967,"v":null},{"k":16,"yr":1968,"v":null},{"k":16,"yr":1969,"v":null},{"k":16,"yr":1970,"v":null},{"k":16,"yr":1971,"v":null},{"k":16,"yr":1972,"v":null},{"k":16,"yr":1973,"v":null},{"k":16,"yr":1974,"v":0},{"k":16,"yr":1975,"v":0},{"k":16,"yr":1976,"v":0},{"k":16,"yr":1977,"v":0},{"k":16,"yr":1978,"v":1},{"k":16,"yr":1979,"v":0},{"k":16,"yr":1980,"v":1},{"k":16,"yr":1981,"v":3},{"k":16,"yr":1982,"v":1},{"k":16,"yr":1983,"v":0},{"k":16,"yr":1984,"v":1},{"k":16,"yr":1985,"v":3},{"k":16,"yr":1986,"v":4},{"k":16,"yr":1987,"v":1},{"k":16,"yr":1988,"v":1},{"k":16,"yr":1989,"v":1},{"k":16,"yr":1990,"v":3},{"k":16,"yr":1991,"v":5},{"k":16,"yr":1992,"v":1},{"k":16,"yr":1993,"v":1},{"k":16,"yr":1994,"v":4},{"k":16,"yr":1995,"v":3},{"k":16,"yr":1996,"v":10},{"k":16,"yr":1997,"v":3},{"k":16,"yr":1998,"v":1},{"k":16,"yr":1999,"v":1},{"k":16,"yr":2000,"v":1},{"k":16,"yr":2001,"v":3},{"k":16,"yr":2002,"v":3},{"k":16,"yr":2003,"v":3},{"k":16,"yr":2004,"v":1},{"k":16,"yr":2005,"v":7},{"k":16,"yr":2006,"v":3},{"k":16,"yr":2007,"v":6},{"k":16,"yr":2008,"v":10},{"k":16,"yr":2009,"v":7},{"k":16,"yr":2010,"v":6},{"k":16,"yr":2011,"v":7},{"k":16,"yr":2012,"v":3},{"k":16,"yr":2013,"v":6},{"k":16,"yr":2014,"v":10},
{"k":17,"yr":1950,"v":null},{"k":17,"yr":1951,"v":null},{"k":17,"yr":1952,"v":null},{"k":17,"yr":1953,"v":null},{"k":17,"yr":1954,"v":null},{"k":17,"yr":1955,"v":null},{"k":17,"yr":1956,"v":null},{"k":17,"yr":1957,"v":null},{"k":17,"yr":1958,"v":null},{"k":17,"yr":1959,"v":null},{"k":17,"yr":1960,"v":null},{"k":17,"yr":1961,"v":null},{"k":17,"yr":1962,"v":null},{"k":17,"yr":1963,"v":null},{"k":17,"yr":1964,"v":null},{"k":17,"yr":1965,"v":null},{"k":17,"yr":1966,"v":null},{"k":17,"yr":1967,"v":null},{"k":17,"yr":1968,"v":null},{"k":17,"yr":1969,"v":null},{"k":17,"yr":1970,"v":null},{"k":17,"yr":1971,"v":null},{"k":17,"yr":1972,"v":null},{"k":17,"yr":1973,"v":null},{"k":17,"yr":1974,"v":null},{"k":17,"yr":1975,"v":null},{"k":17,"yr":1976,"v":null},{"k":17,"yr":1977,"v":null},{"k":17,"yr":1978,"v":0},{"k":17,"yr":1979,"v":1},{"k":17,"yr":1980,"v":1},{"k":17,"yr":1981,"v":5},{"k":17,"yr":1982,"v":2},{"k":17,"yr":1983,"v":1},{"k":17,"yr":1984,"v":1},{"k":17,"yr":1985,"v":1},{"k":17,"yr":1986,"v":1},{"k":17,"yr":1987,"v":3},{"k":17,"yr":1988,"v":0},{"k":17,"yr":1989,"v":1},{"k":17,"yr":1990,"v":3},{"k":17,"yr":1991,"v":4},{"k":17,"yr":1992,"v":1},{"k":17,"yr":1993,"v":2},{"k":17,"yr":1994,"v":4},{"k":17,"yr":1995,"v":3},{"k":17,"yr":1996,"v":10},{"k":17,"yr":1997,"v":5},{"k":17,"yr":1998,"v":2},{"k":17,"yr":1999,"v":3},{"k":17,"yr":2000,"v":2},{"k":17,"yr":2001,"v":4},{"k":17,"yr":2002,"v":1},{"k":17,"yr":2003,"v":3},{"k":17,"yr":2004,"v":1},{"k":17,"yr":2005,"v":6},{"k":17,"yr":2006,"v":3},{"k":17,"yr":2007,"v":7},{"k":17,"yr":2008,"v":10},{"k":17,"yr":2009,"v":2},{"k":17,"yr":2010,"v":7},{"k":17,"yr":2011,"v":6},{"k":17,"yr":2012,"v":7},{"k":17,"yr":2013,"v":5},{"k":17,"yr":2014,"v":10}
]
},
"vconcat": [
  {
    "width": 291,
    "height": 342,
    "data": {"name": "cells"},
    "transform": [{"lookup": "k", "from": {"data": {"name": "stations"}, "key": "k", "fields": ["s"]}}],
    "layer": [
      {
        "mark": {"type": "rect", "stroke": "#262626", "strokeWidth": 0.7},
        "encoding": {
          "x": {"field": "yr", "type": "ordinal", "scale": {"paddingInner": 0, "paddingOuter": 0},
                "axis": {"values": [1950,1960,1970,1980,1990,2000,2010], "bandPosition": 0, "labelAngle": 0, "ticks": false, "domain": false, "labelPadding": 6, "title": null}},
          "y": {"field": "s", "type": "nominal", "sort": {"field": "k", "op": "min"}, "scale": {"paddingInner": 0, "paddingOuter": 0},
                "axis": {"ticks": true, "tickSize": -3, "tickWidth": 0.8, "tickColor": "#222", "zindex": 1, "domain": false, "labelPadding": 10, "title": null}},
          "color": {"condition": {"test": "datum.v === null", "value": "white"},
                    "field": "v", "type": "ordinal",
                    "scale": {"domain": [0,1,2,3,4,5,6,7,8,9,10], "range": ["#313695","#4575b4","#74add1","#abd9e9","#e0f3f8","#ffffbf","#fee090","#fdae61","#f46d43","#d73027","#a50026"]},
                    "legend": null}
        }
      },
      {
        "mark": {"type": "rect", "opacity": 0},
        "encoding": {
          "x": {"field": "yr", "type": "ordinal"},
          "y": {"field": "s", "type": "nominal", "sort": {"field": "k", "op": "min"},
                "axis": {"orient": "right", "labels": false, "ticks": true, "tickSize": -3, "tickWidth": 0.8, "tickColor": "#222", "zindex": 1, "domain": false, "title": null}}
        }
      }
    ],
    "resolve": {"axis": {"y": "independent"}}
  },
  {
    "width": 222,
    "height": 18,
    "view": {"stroke": null},
    "title": {"text": "days/year", "fontSize": 15, "fontWeight": "normal", "color": "#1a1a1a", "dx": -14, "offset": 4},
    "data": {"values": [{"v":0,"lab":"0"},{"v":1,"lab":""},{"v":2,"lab":"2"},{"v":3,"lab":""},{"v":4,"lab":"4"},{"v":5,"lab":""},{"v":6,"lab":"6"},{"v":7,"lab":""},{"v":8,"lab":"8"},{"v":9,"lab":""},{"v":10,"lab":"≥10"}]},
    "layer": [
      {
        "mark": {"type": "rect"},
        "encoding": {
          "x": {"field": "v", "type": "quantitative", "bin": {"step": 1, "extent": [0, 11]},
                "scale": {"domain": [1.232, 11]}, "axis": null},
          "color": {"field": "v", "type": "ordinal",
                    "scale": {"domain": [0,1,2,3,4,5,6,7,8,9,10], "range": ["#313695","#4575b4","#74add1","#abd9e9","#e0f3f8","#ffffbf","#fee090","#fdae61","#f46d43","#d73027","#a50026"]},
                    "legend": null}
        }
      },
      {
        "mark": {"type": "rect", "filled": false, "stroke": "#8a8a8a", "strokeWidth": 0.8},
        "encoding": {"x": {"datum": 0, "axis": null}, "x2": {"datum": 11}}
      },
      {
        "mark": {"type": "text", "fontSize": 14, "baseline": "middle", "dy": 24, "color": "#1a1a1a"},
        "encoding": {
          "x": {"field": "v", "type": "quantitative", "bin": {"step": 1, "extent": [0, 11]}, "axis": null},
          "text": {"field": "lab"}
        }
      }
    ]
  }
]
}
